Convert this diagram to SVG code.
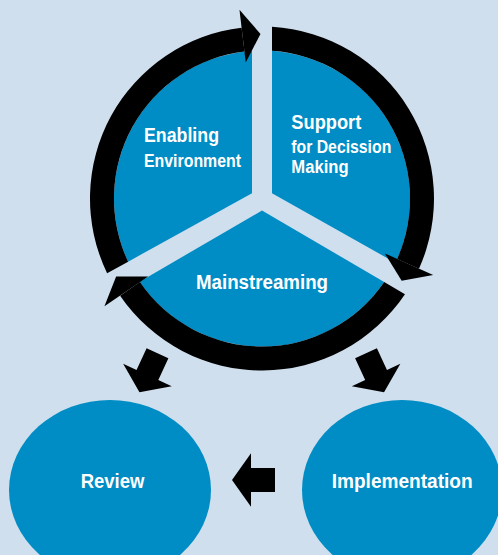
<svg xmlns="http://www.w3.org/2000/svg" xmlns:xlink="http://www.w3.org/1999/xlink" width="498" height="555" viewBox="0 0 498 555">
  <style>
    .bg { fill: #cfdfee; }
    .node { fill: #008cc4; }
    .conn { fill: #000000; }
    .lbl { fill: #ffffff; font-family: "Liberation Sans", Arial, sans-serif; font-weight: bold; }
    .big { font-size: 20px; }
    .small { font-size: 17.5px; }
    .bottom { font-size: 21px; }
  </style>
  <defs>
    <polygon id="ringHead" points="0,-26.5 18,0 0,26.5"/>
    <polygon id="blockArrow" points="0,-12 24,-12 24,-26.75 43,0 24,26.75 24,12 0,12"/>
  </defs>

  <rect class="bg" x="0" y="0" width="498" height="555"/>

  <g id="enabling-environment">
    <path class="node" d="M252,193.2 L252,50.84 A148,148 0 0 0 128.14,261.63 Z"/>
    <text class="lbl big" x="144" y="142.3" textLength="75" lengthAdjust="spacingAndGlyphs">Enabling</text>
    <text class="lbl small" x="144" y="166.7" textLength="97" lengthAdjust="spacingAndGlyphs">Environment</text>
  </g>

  <g id="support-decision-making">
    <path class="node" d="M272,193.2 L272,50.84 A148,148 0 0 1 395.37,262.7 Z"/>
    <text class="lbl big" x="291.3" y="129" textLength="70" lengthAdjust="spacingAndGlyphs">Support</text>
    <text class="lbl small" x="291.3" y="153.3" textLength="100" lengthAdjust="spacingAndGlyphs">for Decission</text>
    <text class="lbl small" x="291.3" y="173.3" textLength="57.3" lengthAdjust="spacingAndGlyphs">Making</text>
  </g>

  <g id="mainstreaming">
    <path class="node" d="M262,210.5 L384.2,282 A148,148 0 0 1 139.6,281.7 Z"/>
    <text class="lbl big" x="196" y="289" textLength="132" lengthAdjust="spacingAndGlyphs">Mainstreaming</text>
  </g>

  <g id="review">
    <ellipse class="node" cx="110" cy="490" rx="101" ry="90"/>
    <text class="lbl bottom" x="80.7" y="488" textLength="63.7" lengthAdjust="spacingAndGlyphs">Review</text>
  </g>

  <g id="implementation">
    <ellipse class="node" cx="402" cy="490" rx="100" ry="90"/>
    <text class="lbl bottom" x="331.7" y="488" textLength="141" lengthAdjust="spacingAndGlyphs">Implementation</text>
  </g>

  <g id="connectors">
    <!-- cycle ring segments -->
    <path class="conn" d="M107.1,273.26 A172,172 0 0 1 241.6,27.7 L244.5,51.5 A148,148 0 0 0 128.14,261.63 Z"/>
    <path class="conn" d="M272,26.79 A172,172 0 0 1 419,268.7 L397.1,258.9 A148,148 0 0 0 272,50.84 Z"/>
    <path class="conn" d="M404.97,294.13 A172,172 0 0 1 120.1,295.7 L139.9,282.1 A148,148 0 0 0 384.2,282 Z"/>
    <!-- ring arrowheads -->
    <use xlink:href="#ringHead" href="#ringHead" class="conn" transform="translate(242.6,36.1) rotate(-6.8)"/>
    <use xlink:href="#ringHead" href="#ringHead" class="conn" transform="translate(409,264.2) rotate(114.1)"/>
    <use xlink:href="#ringHead" href="#ringHead" class="conn" transform="translate(126.3,291.4) rotate(235.6)"/>
    <!-- block arrows -->
    <use xlink:href="#blockArrow" href="#blockArrow" class="conn" transform="translate(157.5,353.3) rotate(114.8)"/>
    <use xlink:href="#blockArrow" href="#blockArrow" class="conn" transform="translate(366,353.3) rotate(65.2)"/>
    <use xlink:href="#blockArrow" href="#blockArrow" class="conn" transform="translate(275,480) rotate(180)"/>
  </g>
</svg>
